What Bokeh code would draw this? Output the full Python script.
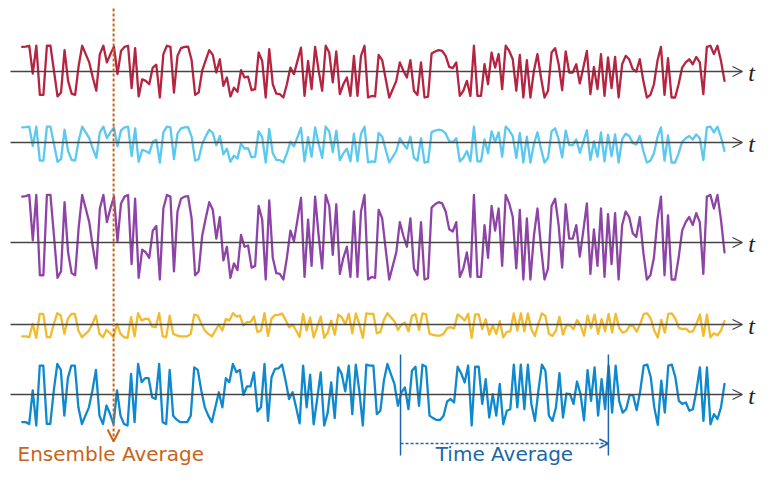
import numpy as np
from bokeh.plotting import figure
from bokeh.models import Range1d, Arrow, OpenHead, Label
from bokeh.embed import file_html
from bokeh.resources import INLINE

# ---------------- data (normalised amplitudes) ----------------
signal_a = [
    0.95, 0.96, 0.99, -0.08, 0.99, -0.9, -0.9, 0.99, 0.99, 0.03,
    -0.96, -0.81, 0.82, -0.36, -0.85, -0.9, 0.22, 0.99, 0.67, 0.35,
    -0.23, -0.74, 0.67, 0.99, 0.35, 0.67, 0.95, -0.1, 0.79, 0.95,
    0.99, -0.64, 0.9, -0.96, -0.3, -0.36, -0.49, 0.15, 0.26, -1.0,
    0.67, 0.99, 0.95, -0.81, 0.6, 0.9, 0.95, 0.96, 0.44, -0.9,
    -0.81, 0.03, 0.44, 0.82, 0.64, -0.04, 0.47, -0.55, -0.23, -0.96,
    -0.62, -0.78, 0.05, -0.23, -0.2, -0.72, -0.68, 0.73,
    0.41, -1.0, 0.86, -0.49, -0.85, -0.87, -1.0, -0.49, 0.15, -0.1,
    0.41, 0.92, -0.94, 0.41, -0.68, 0.95, 0.03, -0.74, 0.99, 0.73,
    -0.42, 0.77, -0.87, -0.49, -0.23, -0.94, 0.6, -0.94, 0.6, 0.99,
    -1.0, -0.94, -0.96, 0.64, 0.44, -0.29, -1.0, -0.68, -0.36, 0.35,
    0.03, -0.23, 0.44, -0.74, -0.9, 0.35, -1.0, -0.97, 0.69, 0.77,
    0.82, 0.79, 0.6, 0.18, 0.13, 0.35, -0.94, -0.74, -0.36, -0.94,
    0.99, -0.94, -0.94, 0.28, -0.49, 0.73, 0.15, 0.67, -0.68, 0.99,
    0.79,
    0.47, -0.74, 0.64, -1.0, 0.44, -1.0, 0.03, 0.67, -0.23, -1.0,
    -0.74, 0.73, 0.9, 0.28, -0.72, 0.77, -0.04, -0.04, 0.28, -0.46,
    0.15, 0.79, -0.87, 0.18, -0.68, 0.67, -0.94, 0.54, -0.64, 0.56,
    -1.0, 0.28, 0.6, 0.47, 0.09, 0.0, 0.47, -0.36, -1.0, -0.9,
    -0.49, 0.41, 0.95, -0.9, 0.51, -1.0, -1.0, -0.49, 0.15, 0.35,
    0.47, 0.28, 0.56, 0.35, -0.87, 0.95, 0.99, 0.67, 0.99, 0.41,
    -0.36,
]

signal_b = [
    -0.89, -0.89, -0.95, 0.14, -1.0, 0.95, 0.95, -0.95, -0.95, 0.14,
    1.0, 0.81, -0.68, 0.54, 0.95, 0.95, -0.41, -0.95, -0.68, -0.41,
    0.14, 0.81, -0.68, -0.95, -0.35, -0.62, -0.95, 0.14, -0.68, -0.95,
    -1.0, 0.68, -0.89, 1.0, 0.41, 0.54, 0.54, -0.08, -0.14, 1.0,
    -0.89, -0.95, 0.81, -0.68, -0.81, -0.89, -0.89, -0.89, -0.68, 0.89,
    0.81, 0.14, -0.41, -0.68, -0.89, -0.41, 0.08, -0.41, 0.54, 0.41,
    1.0, 0.73, 0.81, 0.0, 0.27, 0.27, 0.73, -0.54,
    -0.41, 1.0, -0.85, 0.57, 0.84, 0.86, 0.98, 0.46, -0.14, 0.08,
    -0.41, -0.93, 0.95, -0.41, 0.65, -0.96, -0.14, 0.73, -1.0, -0.58,
    0.4, -0.76, 0.89, 0.67, 0.11, 0.95, -0.63, 0.98, 0.13, -1.0,
    0.98, 0.95, 0.95, -0.63, -0.52, 0.46, 1.0, 0.67, 0.35, -0.36,
    0.08, 0.24, -0.47, 0.78, 0.91, -0.36, 0.98, 0.91, -0.68, -0.76,
    -0.82, -0.82, -0.68, -0.22, -0.14, -0.25, 0.91, 0.7, 0.4, 0.95,
    -1.0, 0.91, 0.91, -0.3, 0.51, -0.74, 0.02, -0.68, 0.35, -0.96,
    -0.52,
    -0.47, 0.98, -0.41, 0.98, -0.47, 0.98, -0.3, -0.85, 0.13, 0.98,
    0.78, -0.68, -0.85, -0.41, 0.7, -0.74, 0.04, 0.02, -0.3, 0.43,
    0.02, -0.83, 0.8, -0.2, 0.89, -0.68, 0.51, -0.47, 0.95, -0.58,
    0.95, -0.2, -0.58, -0.47, 0.0, -0.03, -0.5, 0.13, 0.95, 0.98,
    0.57, -0.41, -0.98, 0.46, -0.58, 0.95, 0.98, 0.57, -0.2, -0.3,
    -0.25, -0.52, -0.47, 0.13, 0.89, -0.85, 0.89, -0.96, -0.63, -0.79,
    -0.41, 0.35,
]

series_names = ["red", "cyan", "purple", "yellow", "blue"]
series_values = [signal_a, signal_a, signal_a, signal_b, signal_b]
series_time = ["ta", "ta", "ta", "tb", "tb"]
axis_label = "t"
ensemble_label = "Ensemble Average"
time_label = "Time Average"

# ---------------- layout / style ----------------
W, H = 757, 467
colors = ["#b52440", "#5bc8f0", "#8e44a6", "#f2bb2e", "#0e88cf"]
bands = [(45, 97), (126, 162), (194, 279), (312.7, 337.3), (363.5, 425)]   # px of +1 / -1
axis_px = [71, 142, 242, 324, 394]
x_first, x_last = 21.7, 724.0
axis_x0, axis_x1 = 10, 742

p = figure(width=W, height=H, x_range=Range1d(0, W), y_range=Range1d(H, 0),
           output_backend="svg", toolbar_location=None, min_border=0,
           x_axis_location=None, y_axis_location=None)
p.grid.visible = False
p.outline_line_color = None
p.background_fill_color = "white"
p.border_fill_color = "white"


def xr(n):
    s = (x_last - x_first) / (n - 1)
    lo = -x_first / s
    return Range1d(lo, lo + W / s)


def yr(top, bot):
    span = 2 * H / (bot - top)
    hi = 1 + 2 * top / (bot - top)
    return Range1d(hi - span, hi)


p.extra_x_ranges = {"ta": xr(len(signal_a)), "tb": xr(len(signal_b))}
p.extra_y_ranges = {name: yr(*b) for name, b in zip(series_names, bands)}

for name, vals, tname, col in zip(series_names, series_values, series_time, colors):
    p.line(x=np.arange(len(vals)), y=vals, x_range_name=tname, y_range_name=name,
           line_color=col, line_width=2.3, line_join="round", line_cap="round")

axis_col = "#454545"
for ay in axis_px:
    p.add_layout(Arrow(x_start=axis_x0, x_end=axis_x1, y_start=ay, y_end=ay,
                       line_color=axis_col, line_width=1.3,
                       end=OpenHead(size=10, line_color=axis_col, line_width=1.3)))
    p.add_layout(Label(x=751, y=ay + 1, text=axis_label, text_font="Liberation Serif",
                       text_font_style="italic", text_font_size="24px",
                       text_align="center", text_baseline="middle", text_color="#222222"))

# Ensemble average marker (at sample index of signal_a)
ens_col = "#c8641a"
ensemble_t = 25.9
p.add_layout(Arrow(x_start=ensemble_t, x_end=ensemble_t, y_start=8, y_end=441,
                   x_range_name="ta", line_color=ens_col, line_width=2, line_dash="3 2",
                   end=OpenHead(size=12, line_color=ens_col, line_width=2)))
p.add_layout(Label(x=17, y=465, text=ensemble_label, text_font="DejaVu Sans",
                   text_font_size="20px", text_color=ens_col, text_baseline="bottom"))

# Time average window
ta_col = "#1c66aa"
window = (107.2, 166.1)
for wx in window:
    p.add_layout(Arrow(x_start=wx, x_end=wx, y_start=354, y_end=455, x_range_name="ta",
                       line_color=ta_col, line_width=1.5, end=None))
p.add_layout(Arrow(x_start=window[0], x_end=window[1], y_start=443, y_end=443,
                   x_range_name="ta", line_color=ta_col, line_width=1.5, line_dash="3 2",
                   end=OpenHead(size=9, line_color=ta_col, line_width=1.5)))
p.add_layout(Label(x=(window[0] + window[1]) / 2, y=465, x_range_name="ta",
                   text=time_label, text_font="DejaVu Sans", text_font_size="20px",
                   text_color=ta_col, text_align="center", text_baseline="bottom"))

open("out.html", "w").write(file_html(p, INLINE))
